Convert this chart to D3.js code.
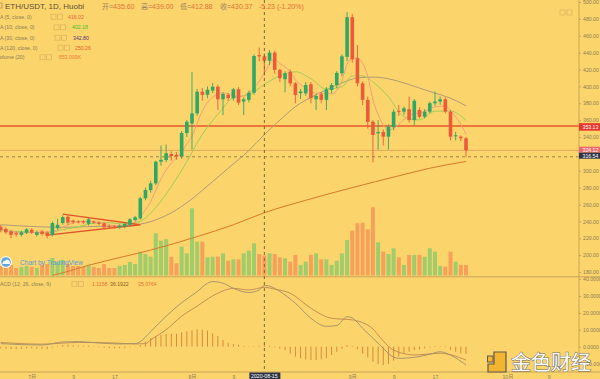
<!DOCTYPE html>
<html>
<head>
<meta charset="utf-8">
<script src="https://cdn.jsdelivr.net/npm/d3@7"></script>
<style>
  body { margin: 0; background: #fbd46b; }
  svg { display: block; font-family: "Liberation Sans", "Noto Sans CJK SC", sans-serif; }
</style>
</head>
<body>
<svg id="chart" width="600" height="379"></svg>
<script>
// ETH/USDT 1D (Huobi) — candles, MAs, volume and MACD.

const START_DATE = "2020-06-25";

const opens = [233.7,231,228,226,224,226.6,230,224,228,226.6,
  224,232,238,245.5,241,240,240,237,239.7,238.5,
  237.7,234.5,234,233,233.7,236,241.6,243.6,267.3,277,
  285,310.7,312.7,320,319,316.7,344.7,356,368,393.7,
  390,395,399.6,384.7,390,386,396.5,382,384,392.5,
  437,435.6,430.4,440,419.5,408.4,417.4,403.6,392,391.8,
  402.5,384.7,390.6,384,395.7,401.6,415.5,435,482,433.3,
  403.6,384,358,344.4,346,340.4,351.5,371,370,373,
  360,372,364,370,380,382,384.7,370,341,340.4,
  338.5];
const highs = [236,233,230,228,229,232,232,229,230,228,
  240,243,247,247,242,241.5,241.5,244,241,240,
  239,236,235.5,236.5,238.5,244,246.5,269,280,288,
  312,330,331,323,322,347,360,417,397,398,
  400,404,402,393,392,398,399,387,395,438,
  446,439,443,442,421,418,420,405,397,405,
  405,391,393,399,404,418,438,488,486,449,
  406,388,360,360,349,355,373,378,376,388,
  385,375,373,382,394,388,387,372,346,342,
  340];
const lows = [227,225,220,222,222,225,225,222,223,220,
  222,230,236,236,237,237.5,237,235,237,235.5,
  231,232,231.5,231.5,232,234,240,242,265,274,
  283,306,310,312,313,314,340,325,365,383,
  386,392,372,366,383,383,378,366,381,390,
  430,412.88,425,415,405,393,400,380,385,389,
  380,372,380,372,392,398,412,430,428,400,
  378,350,310,325,330,325,348,365,366,357,
  354,362,362,368,377,378,368,336,336,335,
  316.5];
const closes = [229.8,227,224,224.5,227,230.6,226.6,227,225,222.7,
  238,236,245,238.5,239,239,238.5,242.4,238.5,237,
  233,233.5,233,235,237,242.4,244.8,267.3,277.2,285,
  310.7,313,320.7,317.5,317,344.7,358,368,393.7,390,
  396,399.6,384.7,391,386,396.5,380.7,384.7,392.5,436,
  435.6,430.37,440,419.5,409.6,415.5,403.6,389.8,394,401.6,
  386,388.6,384,396.5,401.6,416,435.6,482,432,403.6,
  384,358,342.4,346,340.4,352.3,370,370,374,360,
  383,364,370,380,382,384.7,370,340.4,342,338.5,
  324.12];
// volume in thousands
const volumes = [405,320,450,320,360,405,360,320,450,490,
  745,575,660,490,405,405,360,450,360,320,
  490,320,320,405,450,575,490,1015,915,800,
  1800,1485,1545,800,520,1230,945,2865,1440,1440,
  775,800,800,945,630,690,690,945,1060,1375,
  915,853,945,915,775,735,590,875,450,590,
  875,945,690,690,450,630,945,1515,1910,2225,
  2250,1970,2910,1415,1015,915,1160,775,450,875,
  875,875,800,1160,1015,405,375,1015,590,450,
  450];
const macdHist = [-1.0,-1.2,-1.4,-1.5,-1.3,-1.0,-1.0,-1.2,-1.3,-1.5,
  -0.5,0.3,1.0,1.2,0.9,0.7,0.5,0.6,0.2,-0.3,
  -0.6,-0.9,-1.0,-0.9,-0.7,-0.4,-0.2,1.0,3.0,5.0,
  6.0,7.0,7.5,7.7,7.7,8.5,9.0,9.7,10.3,10.0,
  9.5,7.9,6.3,4.0,2.4,1.6,1.0,0.4,-0.2,0.3,
  0.6,1.1158,0.6,-0.4,-1.2,-2.0,-4.0,-5.9,-6.9,-7.5,
  -7.9,-7.9,-7.5,-6.9,-4.9,-3.0,-1.2,1.0,0.4,-1.6,
  -4.0,-6.3,-8.9,-10.3,-10.8,-10.3,-8.3,-5.9,-4.0,-3.0,
  -2.0,-1.6,-1.0,-0.4,0.4,0.4,-0.4,-2.0,-3.0,-4.0,
  -4.3];

// indicator lines, sampled as [candle index, value]
const ma5 = [[0,231],[2,228],[4,226.5],[7,227.1],[10,227.9],[13,236],[16,240],[19,239.1],[22,235],[25,236.2],
  [27,245.3],[28,253.7],[29,263.3],[30,277],[31,290.2],[32,300.9],[33,308.9],[34,315.3],[35,322.1],[36,331.6],
  [37,341],[38,356.3],[39,370.9],[40,381.1],[43,392.3],[46,387.8],[49,398.1],[50,406],[51,416.02],[52,427],
  [53,432.4],[54,427.1],[55,423],[56,417.6],[57,407.6],[58,402.5],[61,392],[64,391.3],[66,406.7],[67,426.3],
  [68,433.4],[69,433.8],[70,427.4],[71,411.9],[72,384],[73,366.8],[74,354.2],[75,347.8],[76,350.2],[79,365.5],
  [82,370.2],[84,375.8],[85,376.1],[86,377.3],[87,371.4],[88,363.8],[89,355.1],[90,343]];
const ma10 = [[0,229],[5,227.5],[9,226.4],[12,230.2],[15,233.7],[18,237.8],[21,238.4],[24,236.7],[27,240.2],[30,256.6],
  [33,281.3],[36,310.9],[39,343.1],[42,366.9],[45,386.4],[48,390.2],[51,402.18],[54,412.6],[57,417.3],[60,409],
  [63,396.9],[66,399.4],[68,412.4],[70,412.4],[72,405.2],[75,387.6],[78,364.2],[81,360.3],[84,370.6],[87,370.8],[90,359.6]];
const ma30 = [[0,236],[6,234],[12,233],[18,234],[24,235],[28,238],[32,247],[36,262],[40,282],[44,303],
  [48,324],[51,342.8],[54,360],[57,376],[60,387],[63,396],[66,404],[69,410],[72,411],[75,409],
  [78,404],[81,398],[84,392],[87,386],[90,377]];
const ma120 = [[10,176],[12,179],[17,188],[25,200],[29,206],[38,222],[45,236],[51,250.26],[59,265],[68,280],
  [77,294],[83,303],[90,311]];
const macdLine = [[0,1.8],[4,1.2],[8,1.0],[12,2.8],[15,3.0],[19,2.2],[23,1.6],[26,1.8],[27,3],[29,8.9],
  [32,18],[35,26],[38,32.5],[40,37.5],[41,38.5],[43,37.5],[45,34.5],[48,32],[50,33.5],[51,36.19],
  [52,35.8],[54,32.6],[57,25.7],[60,16.8],[63,12],[65,12.5],[67,17.7],[68,17],[70,10.9],[72,5],
  [74,-1],[76,-6.2],[77,-6.9],[80,-6.3],[83,-4.5],[85,-3],[87,-5],[90,-10.8]];
const signalLine = [[0,2.5],[8,1.5],[15,2.5],[22,2.2],[26,1.6],[28,1.8],[29,4],[32,10],[35,18],[38,24],
  [41,30],[44,34],[45,34.5],[48,33.5],[51,35.08],[53,34],[56,31.6],[60,22.7],[64,16.8],[68,15.8],
  [72,10.5],[73,6.9],[76,-2],[80,-4.9],[85,-3.9],[90,-7.9]];

// triangle drawn on the chart: [candle index, price]
const triangleUpper = [[12.8,248.7],[27.9,236]];
const triangleLower = [[9.1,223.8],[27.9,236]];

const priceTicks = d3.range(180, 501, 20);
const macdTicks = [-10, 0, 10, 20, 30, 40];
const timeTicks = [
  ["2020-07-01", "7月"], ["2020-07-09", "9"], ["2020-07-17", "17"],
  ["2020-08-01", "8月"], ["2020-08-09", "9"], ["2020-09-01", "9月"],
  ["2020-09-09", "9"], ["2020-09-17", "17"], ["2020-10-01", "10月"], ["2020-10-09", "9"],
];
const CROSS_DATE = "2020-08-15";
const CROSS_PRICE = 316.54;
const LEVEL_PRICE = 353.13;
const LAST_PRICE = 324.12;

// ---------------------------------------------------------------------------
const AXIS_X = 579, PANE_BOTTOM = 276.5, TIME_Y = 372;
const C_UP = "#2fa866", C_DOWN = "#ec5a3c";
const C_VUP = "#9fcd6c", C_VDOWN = "#f6a05b";
const C_TEXT = "#8e7e5a", C_LINE = "#c9a65a";
const SMALL = "5.2px";

const parse = d3.timeParse("%Y-%m-%d");
const start = parse(START_DATE);
const dayOf = (i) => d3.timeDay.offset(start, i);
const days = closes.map((_, i) => dayOf(i));

const x = d3.scaleTime().domain([days[0], days[days.length - 1]]).range([0.7, 466]);
const yP = d3.scaleLinear().domain([180, 500]).range([272, 2]);
const yV = d3.scaleLinear().domain([0, 3000]).range([275.5, 205.15]);
const yM = d3.scaleLinear().domain([-10, 40]).range([363.6, 279]);

const svg = d3.select("#chart");
svg.append("rect").attr("width", 600).attr("height", 379).attr("fill", "#fbd46b");

const defs = svg.append("defs");
defs.append("clipPath").attr("id", "clipMain").append("rect")
  .attr("x", 0).attr("y", 0).attr("width", AXIS_X).attr("height", PANE_BOTTOM);
defs.append("clipPath").attr("id", "clipMacd").append("rect")
  .attr("x", 0).attr("y", PANE_BOTTOM + 0.5).attr("width", AXIS_X).attr("height", TIME_Y - PANE_BOTTOM - 0.5);

const main = svg.append("g").attr("clip-path", "url(#clipMain)");
const macdG = svg.append("g").attr("clip-path", "url(#clipMacd)");

// volume bars (behind candles)
main.append("g").selectAll("rect").data(volumes).join("rect")
  .attr("x", (d, i) => x(days[i]) - 2)
  .attr("width", 4)
  .attr("y", (d) => yV(d))
  .attr("height", (d) => yV(0) - yV(d))
  .attr("fill", (d, i) => closes[i] >= opens[i] ? C_VUP : C_VDOWN);

// lines across the pane
main.append("line").attr("x1", 0).attr("x2", AXIS_X)
  .attr("y1", yP(LAST_PRICE)).attr("y2", yP(LAST_PRICE))
  .attr("stroke", "#dca05a").attr("stroke-width", 0.8);
main.append("line").attr("x1", 0).attr("x2", AXIS_X)
  .attr("y1", yP(LEVEL_PRICE)).attr("y2", yP(LEVEL_PRICE))
  .attr("stroke", "#e8542b").attr("stroke-width", 1.5);

// moving averages
const maLine = d3.line().x((d) => x(dayOf(d[0]))).y((d) => yP(d[1])).curve(d3.curveMonotoneX);
[[ma120, "#d77a2b"], [ma30, "#b39a78"], [ma10, "#a3cc5a"], [ma5, "#f2a07c"]].forEach(([pts, col]) => {
  main.append("path").datum(pts).attr("d", maLine)
    .attr("fill", "none").attr("stroke", col).attr("stroke-width", 1);
});

// triangle
const triLine = d3.line().x((d) => x(dayOf(d[0]))).y((d) => yP(d[1]));
[triangleUpper, triangleLower].forEach((pts) => {
  main.append("path").datum(pts).attr("d", triLine)
    .attr("fill", "none").attr("stroke", "#e2552a").attr("stroke-width", 1.3);
});

// candles
const candles = main.append("g").selectAll("g").data(closes).join("g");
candles.append("line")
  .attr("x1", (d, i) => x(days[i])).attr("x2", (d, i) => x(days[i]))
  .attr("y1", (d, i) => yP(highs[i])).attr("y2", (d, i) => yP(lows[i]))
  .attr("stroke", (d, i) => d >= opens[i] ? C_UP : C_DOWN).attr("stroke-width", 0.9);
candles.append("rect")
  .attr("x", (d, i) => x(days[i]) - 1.8)
  .attr("width", 3.6)
  .attr("y", (d, i) => yP(Math.max(d, opens[i])))
  .attr("height", (d, i) => Math.max(1, Math.abs(yP(d) - yP(opens[i]))))
  .attr("fill", (d, i) => d >= opens[i] ? C_UP : C_DOWN);

// crosshair horizontal
main.append("line").attr("x1", 0).attr("x2", AXIS_X)
  .attr("y1", yP(CROSS_PRICE)).attr("y2", yP(CROSS_PRICE))
  .attr("stroke", "#9a8348").attr("stroke-width", 1).attr("stroke-dasharray", "3,3");

// MACD pane
macdG.append("g").selectAll("line").data(macdHist).join("line")
  .attr("x1", (d, i) => x(days[i])).attr("x2", (d, i) => x(days[i]))
  .attr("y1", yM(0)).attr("y2", (d) => yM(d))
  .attr("stroke", "#d98a3c").attr("stroke-width", 1);
const mLine = d3.line().x((d) => x(dayOf(d[0]))).y((d) => yM(d[1])).curve(d3.curveMonotoneX);
macdG.append("path").datum(signalLine).attr("d", mLine)
  .attr("fill", "none").attr("stroke", "#c08850").attr("stroke-width", 0.9);
macdG.append("path").datum(macdLine).attr("d", mLine)
  .attr("fill", "none").attr("stroke", "#a08e6c").attr("stroke-width", 0.9);

// frame lines
svg.append("line").attr("x1", 0).attr("x2", 600).attr("y1", PANE_BOTTOM + 0.3).attr("y2", PANE_BOTTOM + 0.3)
  .attr("stroke", C_LINE).attr("stroke-width", 1);
svg.append("line").attr("x1", 0).attr("x2", 600).attr("y1", TIME_Y).attr("y2", TIME_Y)
  .attr("stroke", C_LINE).attr("stroke-width", 1);
svg.append("line").attr("x1", AXIS_X).attr("x2", AXIS_X).attr("y1", 0).attr("y2", TIME_Y)
  .attr("stroke", C_LINE).attr("stroke-width", 1);

// crosshair vertical (through both panes)
const cx = x(parse(CROSS_DATE));
svg.append("line").attr("x1", cx).attr("x2", cx).attr("y1", 0).attr("y2", TIME_Y)
  .attr("stroke", "#7d6838").attr("stroke-width", 1).attr("stroke-dasharray", "3,3");

// right axes
function styleAxis(g) {
  g.select(".domain").remove();
  g.selectAll("line").attr("stroke", C_LINE);
  g.selectAll("text").attr("fill", C_TEXT).style("font-size", SMALL)
    .style("font-family", "'Liberation Sans', 'Noto Sans CJK SC', sans-serif");
}
svg.append("g").attr("transform", `translate(${AXIS_X},0)`)
  .call(d3.axisRight(yP).tickValues(priceTicks).tickFormat(d3.format(".2f")).tickSize(2).tickPadding(2))
  .call(styleAxis);
svg.append("g").attr("transform", `translate(${AXIS_X},0)`)
  .call(d3.axisRight(yM).tickValues(macdTicks).tickFormat(d3.format(".4f")).tickSize(2).tickPadding(2))
  .call(styleAxis);

// time axis
svg.append("g").attr("transform", `translate(0,${TIME_Y})`)
  .call(d3.axisBottom(x).tickValues(timeTicks.map((t) => parse(t[0])))
    .tickFormat((d, i) => timeTicks[i][1]).tickSize(0).tickPadding(3))
  .call(styleAxis);

// price labels on the axis
function priceTag(yc, h, fill, txt) {
  svg.append("rect").attr("x", AXIS_X).attr("y", yc - h / 2).attr("width", 600 - AXIS_X).attr("height", h).attr("fill", fill);
  svg.append("text").attr("x", 582.5).attr("y", yc + 1.9).attr("fill", "#fff")
    .style("font-size", SMALL).text(txt);
}
priceTag(yP(LEVEL_PRICE) + 1, 7.5, "#e8352b", LEVEL_PRICE.toFixed(2));
priceTag(yP(LAST_PRICE) - 0.7, 6, "#ee6a6a", LAST_PRICE.toFixed(2));
priceTag(yP(CROSS_PRICE) - 1.1, 6, "#2c3347", CROSS_PRICE.toFixed(2));

// crosshair date tag
svg.append("rect").attr("x", cx - 15).attr("y", TIME_Y + 0.5).attr("width", 31).attr("height", 7).attr("fill", "#2c3347");
svg.append("text").attr("x", cx).attr("y", TIME_Y + 5.8).attr("text-anchor", "middle")
  .attr("fill", "#fff").style("font-size", SMALL).text(CROSS_DATE);

// legend
const legend = svg.append("g");
legend.append("rect").attr("x", -3).attr("y", 3).attr("width", 5).attr("height", 5)
  .attr("fill", "none").attr("stroke", "#8e7e5a").attr("stroke-width", 0.6);
legend.append("text").attr("x", 5).attr("y", 9).attr("fill", "#5e5138")
  .style("font-size", "8px").text("ETH/USDT, 1D, Huobi");

const ohlc = [["开", "435.60", 102], ["高", "439.00", 141], ["低", "412.88", 180], ["收", "430.37", 220]];
ohlc.forEach(([k, v, px]) => {
  const t = legend.append("text").attr("x", px).attr("y", 8.5).style("font-size", "7px");
  t.append("tspan").attr("fill", "#9c8560").text(k + "=");
  t.append("tspan").attr("fill", "#e3733a").text(v);
});
legend.append("text").attr("x", 259).attr("y", 8.5).attr("fill", "#e3733a")
  .style("font-size", "7px").text("-5.23 (-1.20%)");

function iconBoxes(px, py) {
  [0, 6.5].forEach((dx) => {
    legend.append("rect").attr("x", px + dx).attr("y", py - 4.5).attr("width", 5).attr("height", 5)
      .attr("fill", "none").attr("stroke", "#d9b35e").attr("stroke-width", 0.7);
  });
}
const rows = [
  ["MA (5, close, 0)", "416.02", "#e2643a", 16.7, 51, 68, -4.4],
  ["MA (10, close, 0)", "402.18", "#4cbf24", 27.3, 54, 72, -4.4],
  ["MA (30, close, 0)", "342.80", "#5a3380", 37.7, 55, 73, -4.4],
  ["MA (120, close, 0)", "250.26", "#e5602a", 47.7, 58, 75, -4.4],
  ["Volume (20)", "853.009K", "#f0803a", 57.3, 40, 59, -3.5],
];
rows.forEach(([name, val, col, ry, bx, vx, nx]) => {
  legend.append("text").attr("x", nx).attr("y", ry + 2).attr("fill", C_TEXT)
    .style("font-size", SMALL).text(name);
  iconBoxes(bx, ry + 2);
  legend.append("text").attr("x", vx).attr("y", ry + 2).attr("fill", col)
    .style("font-size", SMALL).text(val);
});
legend.append("text").attr("x", -4.4).attr("y", 286).attr("fill", C_TEXT)
  .style("font-size", SMALL).text("MACD (12, 26, close, 9)");
iconBoxes(72, 286);
[["1.1158", "#e3733a", 92], ["36.1922", "#8a5a2a", 110], ["35.0764", "#e3733a", 138]].forEach(([v, c, px]) => {
  legend.append("text").attr("x", px).attr("y", 286).attr("fill", c).style("font-size", SMALL).text(v);
});
// top-right small boxes
[560, 567].forEach((px) => {
  svg.append("rect").attr("x", px).attr("y", 10).attr("width", 5).attr("height", 5)
    .attr("fill", "none").attr("stroke", "#d9b35e").attr("stroke-width", 0.7);
});

// Chart by TradingView badge
const tv = svg.append("g");
tv.append("circle").attr("cx", 6).attr("cy", 262).attr("r", 6).attr("fill", "#ffffff").attr("opacity", 0.9);
tv.append("circle").attr("cx", 6).attr("cy", 262).attr("r", 4.8).attr("fill", "#5ea6dc");
tv.append("path").attr("d", "M2.5,264 Q2.5,261 5,261 Q6,258.5 8.5,260 Q10,260.5 9.8,262.5 Q10.5,264 9,264 Z")
  .attr("fill", "#fff");
tv.append("text").attr("x", 20).attr("y", 264.5).attr("fill", "#5b9bd5")
  .style("font-size", "6.6px").text("Chart by TradingView");

// watermark
const wm = svg.append("g");
wm.append("path").attr("d", "M494,352 h12 v20 h-18 v-8 h6 Z")
  .attr("fill", "#f3b52f").attr("stroke", "#5e5a55").attr("stroke-width", 1.2);
wm.append("rect").attr("x", 487.5).attr("y", 356).attr("width", 5.5).attr("height", 6)
  .attr("fill", "#f3b52f").attr("stroke", "#5e5a55").attr("stroke-width", 1);
wm.append("text").attr("x", 511).attr("y", 370).attr("fill", "#ffffff")
  .attr("stroke", "#6e6e6e").attr("stroke-width", 1).attr("paint-order", "stroke")
  .style("font-size", "20px").style("font-family", "'Noto Sans CJK SC', sans-serif")
  .text("金色财经");
</script>
</body>
</html>
